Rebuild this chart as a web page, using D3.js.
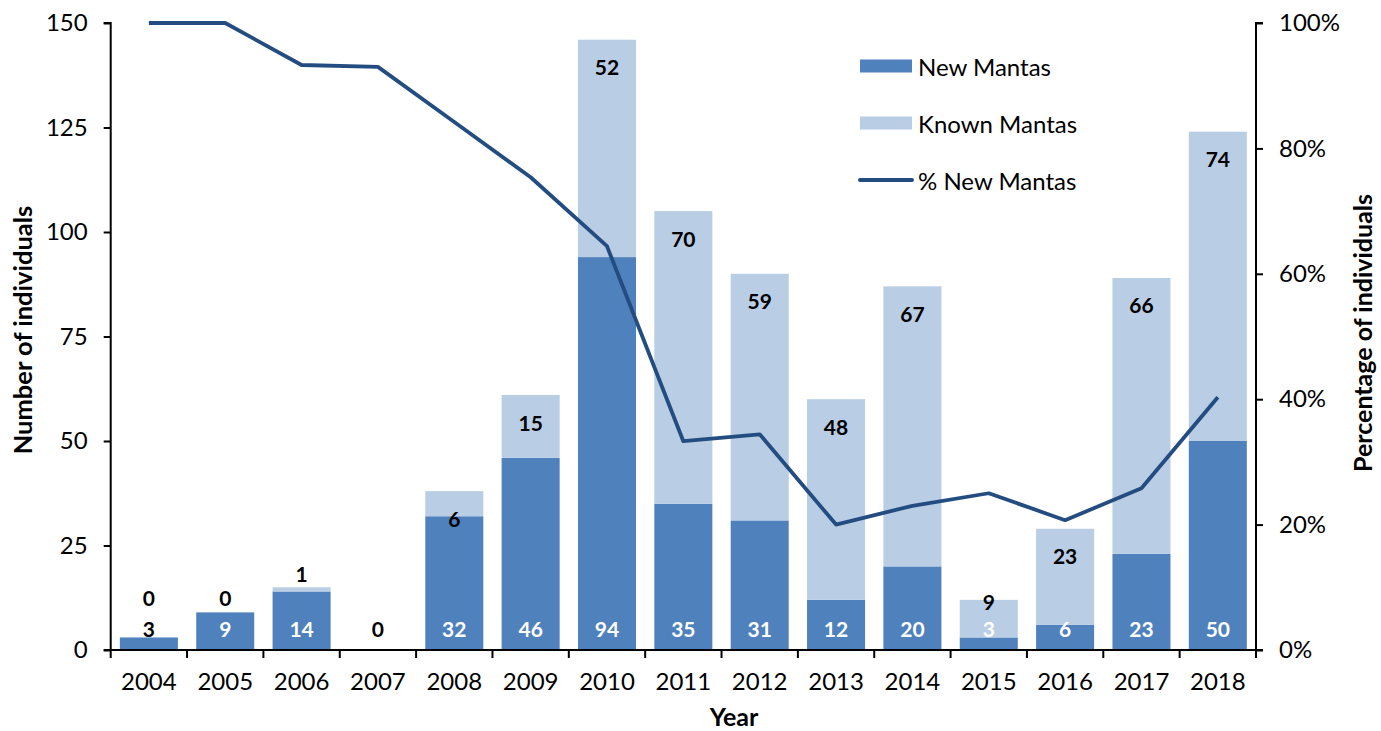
<!DOCTYPE html>
<html>
<head>
<meta charset="utf-8">
<script src="https://cdn.jsdelivr.net/npm/d3@7"></script>
<style>
  body { margin: 0; background: #fff; }
  svg { font-family: Lato, "Open Sans", sans-serif; }
</style>
</head>
<body>
<script>
const width = 1381, height = 731;

const years = ["2004", "2005", "2006", "2007", "2008", "2009", "2010", "2011",
  "2012", "2013", "2014", "2015", "2016", "2017", "2018"];
const newMantas = [3, 9, 14, 0, 32, 46, 94, 35, 31, 12, 20, 3, 6, 23, 50];
const knownMantas = [0, 0, 1, 0, 6, 15, 52, 70, 59, 48, 67, 9, 23, 66, 74];
// percentage of new individuals per year (right axis)
const pctNew = [100, 100, 93.3, 93.0, 84.2, 75.4, 64.4, 33.3, 34.4, 20.0, 23.0, 25.0, 20.7, 25.8, 40.3];
const leftTicks = [0, 25, 50, 75, 100, 125, 150];
const rightTicks = [0, 20, 40, 60, 80, 100];

const colNew = "#4f81bd", colKnown = "#b9cde5", colLine = "#234d80";

const margin = { top: 23, right: 125, bottom: 81, left: 110.7 };

const svg = d3.select("body").append("svg")
  .attr("width", width)
  .attr("height", height);

const x = d3.scaleBand()
  .domain(years)
  .range([margin.left, width - margin.right])
  .paddingInner(0.24)
  .paddingOuter(0.12);

const y = d3.scaleLinear()
  .domain([0, 150])
  .range([height - margin.bottom, margin.top]);

const y2 = d3.scaleLinear()
  .domain([0, 100])
  .range([height - margin.bottom, margin.top]);

const rows = years.map((yr, i) => ({ year: yr, n: newMantas[i], k: knownMantas[i], p: pctNew[i] }));

// bars
const g = svg.append("g");
g.selectAll("rect.new")
  .data(rows)
  .enter().append("rect")
    .attr("class", "new")
    .attr("x", d => x(d.year))
    .attr("width", x.bandwidth())
    .attr("y", d => y(d.n))
    .attr("height", d => y(0) - y(d.n))
    .attr("fill", colNew);

g.selectAll("rect.known")
  .data(rows)
  .enter().append("rect")
    .attr("class", "known")
    .attr("x", d => x(d.year))
    .attr("width", x.bandwidth())
    .attr("y", d => y(d.n + d.k))
    .attr("height", d => y(d.n) - y(d.n + d.k))
    .attr("fill", colKnown);

// axes
const fontSize = 24;
const xAxis = svg.append("g")
  .attr("transform", `translate(0,${y(0)})`)
  .call(d3.axisBottom(x).tickSize(0).tickPadding(23));
xAxis.select(".domain").remove();
xAxis.append("line")
  .attr("x1", margin.left - 7).attr("x2", width - margin.right + 7)
  .attr("stroke", "#000").attr("stroke-width", 2);
// ticks between categories
xAxis.selectAll("line.sep")
  .data(d3.range(years.length + 1))
  .enter().append("line")
    .attr("class", "sep")
    .attr("x1", i => margin.left + i * x.step())
    .attr("x2", i => margin.left + i * x.step())
    .attr("y1", 0).attr("y2", 8)
    .attr("stroke", "#000").attr("stroke-width", 2);

const yAxis = svg.append("g")
  .attr("transform", `translate(${margin.left},0)`)
  .call(d3.axisLeft(y).tickValues(leftTicks).tickSize(7).tickPadding(16));

const yAxis2 = svg.append("g")
  .attr("transform", `translate(${width - margin.right},0)`)
  .call(d3.axisRight(y2).tickValues(rightTicks).tickSize(7).tickPadding(16)
    .tickFormat(d => d + "%"));

[xAxis, yAxis, yAxis2].forEach(a => {
  a.selectAll("text").attr("font-size", fontSize).attr("font-family", "Lato").attr("fill", "#000");
  a.selectAll(".tick line").attr("stroke", "#000").attr("stroke-width", 2);
  a.select(".domain").attr("stroke", "#000").attr("stroke-width", 2);
});
yAxis.select(".domain").attr("d", `M-7,${y(150)}H0V${y(0)}`);
yAxis2.select(".domain").attr("d", `M7,${y2(100)}H0V${y2(0)}`);

// line
const line = d3.line()
  .x(d => x(d.year) + x.bandwidth() / 2)
  .y(d => y2(d.p));
svg.append("path")
  .datum(rows)
  .attr("d", line)
  .attr("fill", "none")
  .attr("stroke", colLine)
  .attr("stroke-width", 3.8)
  .attr("stroke-linejoin", "round");

// data labels
const newLabelY = y(0) - 22;
const labels = svg.append("g")
  .attr("font-size", 21)
  .attr("font-weight", "bold")
  .attr("text-anchor", "middle")
  .attr("dominant-baseline", "central");

labels.selectAll("text.nl")
  .data(rows)
  .enter().append("text")
    .attr("x", d => x(d.year) + x.bandwidth() / 2)
    .attr("y", newLabelY)
    .attr("fill", d => d.n >= 6 || (d.n > 0 && d.k > 0) ? "#fff" : "#000")
    .text(d => d.n);

labels.selectAll("text.kl")
  .data(rows.filter(d => d.n + d.k > 0))
  .enter().append("text")
    .attr("x", d => x(d.year) + x.bandwidth() / 2)
    .attr("y", d => {
      const top = y(d.n + d.k);
      const seg = y(d.n) - top;
      if (seg < 10) return Math.min(top - 14, newLabelY - 31);
      return Math.min(top + 27, newLabelY - 27);
    })
    .attr("fill", "#000")
    .text(d => d.k);

// axis titles
svg.append("text")
  .attr("transform", "translate(22,330) rotate(-90)")
  .attr("text-anchor", "middle")
  .attr("dominant-baseline", "central")
  .attr("font-size", 25.5).attr("font-weight", "bold")
  .text("Number of individuals");

svg.append("text")
  .attr("transform", "translate(1362,333) rotate(-90)")
  .attr("text-anchor", "middle")
  .attr("dominant-baseline", "central")
  .attr("font-size", 25).attr("font-weight", "bold")
  .text("Percentage of individuals");

svg.append("text")
  .attr("x", 734)
  .attr("y", 716)
  .attr("text-anchor", "middle")
  .attr("dominant-baseline", "central")
  .attr("font-size", 25).attr("font-weight", "bold")
  .text("Year");

// legend
const legendItems = [
  { label: "New Mantas", type: "rect", color: colNew },
  { label: "Known Mantas", type: "rect", color: colKnown },
  { label: "% New Mantas", type: "line", color: colLine }
];
const legend = svg.append("g").attr("transform", "translate(860,66)");
const li = legend.selectAll("g")
  .data(legendItems)
  .enter().append("g")
    .attr("transform", (d, i) => `translate(0,${i * 57})`);
li.filter(d => d.type === "rect").append("rect")
  .attr("x", 0).attr("y", -6.5).attr("width", 52).attr("height", 13)
  .attr("fill", d => d.color);
li.filter(d => d.type === "line").append("line")
  .attr("x1", 0).attr("x2", 52).attr("y1", 0).attr("y2", 0)
  .attr("stroke", d => d.color).attr("stroke-width", 4)
  .attr("stroke-linecap", "round");
li.append("text")
  .attr("x", 58).attr("y", 0)
  .attr("dominant-baseline", "central")
  .attr("font-size", 24)
  .text(d => d.label);
</script>
</body>
</html>
